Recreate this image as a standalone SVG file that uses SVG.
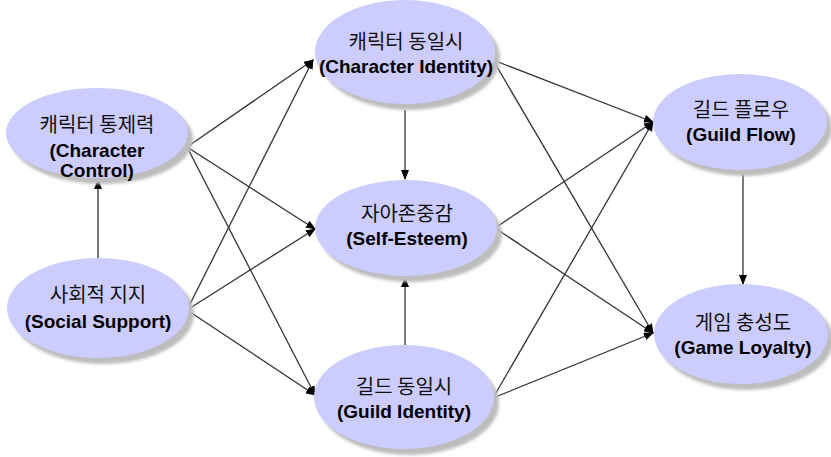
<svg xmlns="http://www.w3.org/2000/svg" width="831" height="457" viewBox="0 0 831 457">
<defs>
<marker id="ah" markerUnits="userSpaceOnUse" markerWidth="10" markerHeight="8" refX="9" refY="4" orient="auto">
<path d="M0,0 L10,4 L0,8 z" fill="#000"/>
</marker>
<filter id="blur" x="-10%" y="-10%" width="120%" height="120%"><feGaussianBlur stdDeviation="1.5"/></filter>
</defs>
<style>
.sh{fill:#BDBDBD;filter:url(#blur)}
.nd{fill:#CCCCFF}
.ko{font-family:"Noto Sans CJK KR","Noto Sans",sans-serif;font-size:20px;fill:#111;text-anchor:middle}
.en{font-family:"Liberation Sans",Arial,sans-serif;font-size:19px;font-weight:bold;fill:#000;text-anchor:middle}
.ln{stroke:#333;stroke-width:1.3;fill:none;marker-end:url(#ah)}
</style>
<rect width="831" height="457" fill="#fff"/>
<g id="connectors">
<line class="ln" x1="187" y1="147" x2="313" y2="60"/>
<line class="ln" x1="187" y1="147" x2="315" y2="229"/>
<line class="ln" x1="187" y1="147" x2="315" y2="395"/>
<line class="ln" x1="187" y1="310" x2="313" y2="60"/>
<line class="ln" x1="187" y1="310" x2="315" y2="229"/>
<line class="ln" x1="187" y1="310" x2="315" y2="395"/>
<line class="ln" x1="98" y1="258" x2="98" y2="180"/>
<line class="ln" x1="405" y1="110" x2="405" y2="179"/>
<line class="ln" x1="405" y1="348" x2="405" y2="278"/>
<line class="ln" x1="493" y1="60" x2="653" y2="122"/>
<line class="ln" x1="493" y1="60" x2="653" y2="333"/>
<line class="ln" x1="495" y1="228" x2="653" y2="122"/>
<line class="ln" x1="495" y1="228" x2="653" y2="333"/>
<line class="ln" x1="493" y1="398" x2="653" y2="122"/>
<line class="ln" x1="493" y1="398" x2="653" y2="333"/>
<line class="ln" x1="743" y1="172" x2="743" y2="284"/>
</g>
<g id="character-control">
<ellipse class="sh" cx="102" cy="139" rx="91" ry="45"/>
<ellipse class="nd" cx="97" cy="133" rx="91" ry="45"/>
<text class="ko" x="97" y="132">캐릭터 통제력</text>
<text class="en" x="97" y="157">(Character</text>
<text class="en" x="97" y="177">Control)</text>
</g>
<g id="social-support">
<ellipse class="sh" cx="103" cy="314" rx="91" ry="50"/>
<ellipse class="nd" cx="98" cy="308" rx="91" ry="50"/>
<text class="ko" x="98" y="302">사회적 지지</text>
<text class="en" x="98" y="328">(Social Support)</text>
</g>
<g id="character-identity">
<ellipse class="sh" cx="410" cy="58" rx="90" ry="52"/>
<ellipse class="nd" cx="405" cy="52" rx="90" ry="52"/>
<text class="ko" x="406" y="49">캐릭터 동일시</text>
<text class="en" x="406" y="73">(Character Identity)</text>
</g>
<g id="self-esteem">
<ellipse class="sh" cx="411" cy="234" rx="91" ry="48"/>
<ellipse class="nd" cx="406" cy="228" rx="91" ry="48"/>
<text class="ko" x="407" y="221">자아존중감</text>
<text class="en" x="407" y="245">(Self-Esteem)</text>
</g>
<g id="guild-identity">
<ellipse class="sh" cx="409" cy="403" rx="90" ry="52"/>
<ellipse class="nd" cx="404" cy="397" rx="90" ry="52"/>
<text class="ko" x="404" y="394">길드 동일시</text>
<text class="en" x="404" y="418">(Guild Identity)</text>
</g>
<g id="guild-flow">
<ellipse class="sh" cx="745" cy="128" rx="87" ry="48"/>
<ellipse class="nd" cx="740" cy="122" rx="87" ry="48"/>
<text class="ko" x="741" y="117">길드 플로우</text>
<text class="en" x="741" y="141">(Guild Flow)</text>
</g>
<g id="game-loyalty">
<ellipse class="sh" cx="746" cy="340" rx="87" ry="50"/>
<ellipse class="nd" cx="741" cy="334" rx="87" ry="50"/>
<text class="ko" x="743" y="330">게임 충성도</text>
<text class="en" x="743" y="354">(Game Loyalty)</text>
</g>
</svg>
